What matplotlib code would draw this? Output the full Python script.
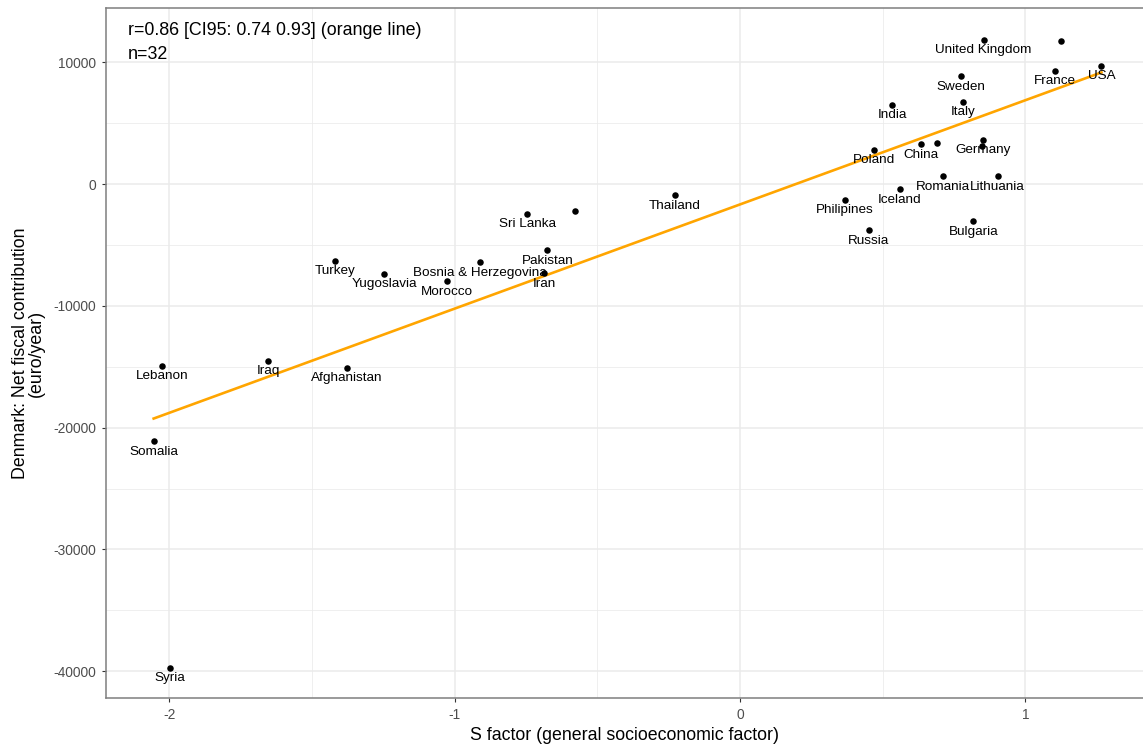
import numpy as np
import matplotlib
matplotlib.use("Agg")
import matplotlib.pyplot as plt
from matplotlib.ticker import MultipleLocator

plt.rcParams['font.family'] = ['Liberation Sans', 'DejaVu Sans']
plt.rcParams['axes.unicode_minus'] = False

# data
countries = ['Syria', 'Somalia', 'Lebanon', 'Iraq', 'Afghanistan', 'Turkey',
             'Yugoslavia', 'Morocco', 'Bosnia & Herzegovina', 'Iran', 'Pakistan',
             'Sri Lanka', '', 'Thailand', 'Philipines', 'Russia', 'Iceland',
             'Poland', 'China', '', 'India', 'Romania', 'Lithuania', 'Bulgaria',
             'Germany', '', 'Italy', 'Sweden', 'United Kingdom', '', 'France', 'USA']
s_factor = [-1.998, -2.055, -2.026, -1.653, -1.378, -1.419,
            -1.246, -1.028, -0.911, -0.687, -0.675,
            -0.745, -0.577, -0.228, 0.367, 0.452, 0.561,
            0.469, 0.634, 0.692, 0.533, 0.710, 0.903, 0.818,
            0.852, 0.848, 0.782, 0.774, 0.854, 1.124, 1.103, 1.267]
net_contrib = [-39713, -21124, -14918, -14507, -15082, -6297,
               -7365, -7989, -6429, -7332, -5443,
               -2438, -2192, -927, -1314, -3796, -435,
               2791, 3259, 3342, 6509, 629, 629, -3066,
               3612, 3120, 6732, 8842, 11823, 11741, 9302, 9688]

x = np.array(s_factor)
y = np.array(net_contrib)

fig = plt.figure(figsize=(11.43, 7.49), dpi=100)
ax = fig.add_axes([106/1143, 51/749, (1143-106)/1143, 690/749])

# grid like ggplot theme_bw
ax.set_axisbelow(True)
ax.xaxis.set_major_locator(MultipleLocator(1))
ax.xaxis.set_minor_locator(MultipleLocator(0.5))
ax.yaxis.set_major_locator(MultipleLocator(10000))
ax.yaxis.set_minor_locator(MultipleLocator(5000))
ax.grid(which='major', color='#EBEBEB', linewidth=1.1)
ax.grid(which='minor', color='#EBEBEB', linewidth=0.55)
ax.tick_params(which='minor', length=0)
ax.tick_params(which='major', length=3, width=0.8, color='#333333',
               labelcolor='#4D4D4D', labelsize=9.9, pad=4)

for side in ['left', 'bottom', 'top']:
    ax.spines[side].set_color('#7F7F7F')
    ax.spines[side].set_linewidth(1.1)
ax.spines['right'].set_visible(False)

# regression line
slope, intercept = np.polyfit(x, y, 1)
xl = np.array([x.min(), x.max()])
ax.plot(xl, slope * xl + intercept, color='orange', linewidth=1.9, zorder=2)

ax.scatter(x, y, s=22, color='black', zorder=3, linewidths=0)

for name, xi, yi in zip(countries, x, y):
    if name:
        ax.annotate(name, (xi, yi), xytext=(0, -7.5), textcoords='offset points',
                    ha='center', va='center', fontsize=9.7, color='black', zorder=4)

ax.text(0.0212, 0.968, 'r=0.86 [CI95: 0.74 0.93] (orange line)',
        transform=ax.transAxes, ha='left', va='center', fontsize=12.9)
ax.text(0.0212, 0.932, 'n=32',
        transform=ax.transAxes, ha='left', va='center', fontsize=12.9)

ax.set_xlim(-2.222, 1.4125)
ax.set_ylim(-42200, 14450)

ax.set_xlabel('S factor (general socioeconomic factor)', fontsize=12.8, labelpad=4)
ax.set_ylabel('Denmark: Net fiscal contribution\n(euro/year)', fontsize=12.8,
              labelpad=6, linespacing=0.95)

fig.savefig('out.png', dpi=100)
